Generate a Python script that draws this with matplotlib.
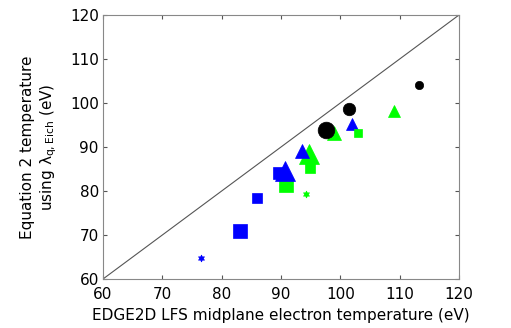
import numpy as np
import matplotlib
matplotlib.use("Agg")
import matplotlib.pyplot as plt

# EDGE2D midplane Te vs Te from equation 2 with lambda_q (Eich)
te_edge2d = [76.6, 83.1, 86.0, 90.8, 89.7, 90.6, 94.2, 94.9, 94.7, 93.6, 99.0, 97.5, 101.9, 102.9, 101.5, 109.0, 113.2]
te_eq2 = [64.7, 71.0, 78.5, 81.4, 84.0, 84.6, 79.3, 85.2, 88.4, 89.2, 93.1, 93.9, 95.3, 93.1, 98.7, 98.2, 104.0]
colors = ['b', 'b', 'b', 'lime', 'b', 'b', 'lime', 'lime', 'lime', 'b', 'lime', 'k', 'b', 'lime', 'k', 'lime', 'k']
markers = ['star', 's', 's', 's', 's', '^', 'star', 's', '^', '^', '^', 'o', '^', 's', 'o', '^', 'o']
sizes = [5, 10, 7, 10, 8, 15, 5, 7, 15, 10, 10, 12, 8.5, 6, 9, 8.5, 6]

fig = plt.figure(figsize=(5.11, 3.28), dpi=100)
ax = fig.add_axes([103/511, 1 - 279/328, 356/511, 264/328])

ax.plot([60, 120], [60, 120], color='#555555', lw=0.8, zorder=1)

for x, y, c, m, s in zip(te_edge2d, te_eq2, colors, markers, sizes):
    mk = (6, 1, 0) if m == 'star' else m
    ax.plot(x, y, marker=mk, color=c, markersize=s, markeredgewidth=0.5,
            linestyle='none', zorder=2)

ax.set_xlim(60, 120)
ax.set_ylim(60, 120)
ax.set_xticks(np.arange(60, 121, 10))
ax.set_yticks(np.arange(60, 121, 10))
ax.tick_params(direction='in', top=True, right=True, labelsize=11,
               length=3, color='#555555')
ax.tick_params(axis='x', pad=6)
ax.tick_params(axis='y', pad=3)
for sp in ax.spines.values():
    sp.set_color('#888888')
    sp.set_linewidth(0.8)

ax.set_xlabel('EDGE2D LFS midplane electron temperature (eV)', fontsize=11, labelpad=4)
ax.set_ylabel('Equation 2 temperature\nusing $\\mathdefault{\u03bb_{q,Eich}}$ (eV)', fontsize=11, labelpad=8)

fig.savefig('out.png', dpi=100)
